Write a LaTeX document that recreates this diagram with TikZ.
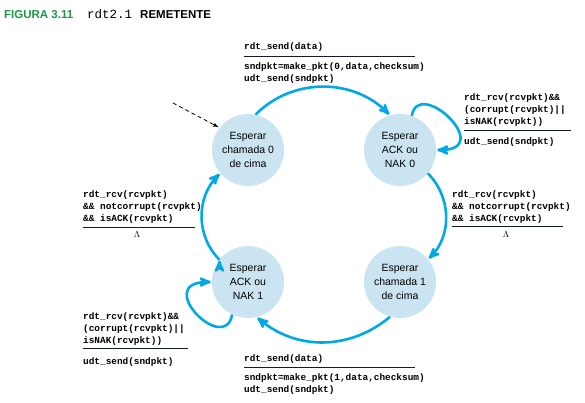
\documentclass[tikz,border=0pt]{standalone}
\usepackage{fontspec}
\setmainfont{Liberation Sans}
\setmonofont{Liberation Mono}
\usetikzlibrary{arrows}

\definecolor{fsmblue}{RGB}{0,169,230}
\definecolor{statefill}{RGB}{202,228,242}
\definecolor{figgreen}{RGB}{30,150,72}
\definecolor{barcol}{RGB}{20,24,48}

\begin{document}
\begin{tikzpicture}[x=1pt,y=1pt,>=stealth',shorten >=1pt,
          state/.style={circle,fill=statefill,minimum size=72pt,inner sep=0pt,align=center,
                        font=\fontsize{10.5}{14}\selectfont},
          trans/.style={->,draw=fsmblue,line width=2.6pt},
          code/.style={anchor=base west,inner sep=0pt,align=left,
                       font=\ttfamily\bfseries\fontsize{9.4}{12}\selectfont},
          lam/.style={inner sep=0pt,font=\fontsize{9}{10}\selectfont},
          bar/.style={draw=barcol,line width=0.9pt}]

        \useasboundingbox (0,0) rectangle (585,-403);

        % title
        \node[anchor=base west,inner sep=0pt,text=figgreen,font=\bfseries\fontsize{11.5}{14}\selectfont] (fig) at (4,-19) {FIGURA 3.11};
        \node[anchor=base west,inner sep=0pt,font=\ttfamily\fontsize{12.5}{14}\selectfont] (name) at (87,-19) {rdt2.1};
        \node[anchor=base west,inner sep=0pt,font=\bfseries\fontsize{11.5}{14}\selectfont] (role) at (140,-19) {REMETENTE};

        % states
        \node[state] (s0) at (248,-150) {Esperar\\chamada 0\\de cima};
        \node[state] (a0) at (400,-150) {Esperar\\ACK ou\\NAK 0};
        \node[state] (a1) at (248,-282) {Esperar\\ACK ou\\NAK 1};
        \node[state] (s1) at (400,-282) {Esperar\\chamada 1\\de cima};

        % initial state
        \coordinate (init) at (173,-103);
        \draw[->,>=latex,line width=0.8pt,dash pattern=on 4pt off 3pt] (init) -- (s0.142);

        % transitions
        \path[trans]
        (s0.78) edge[out=45,in=135] (a0.106)
        (a0.-40) edge[out=-45,in=45] (s1.39)
        (s1.-106) edge[out=-140,in=-40] (a1.-76)
        (a1.142) edge[out=135,in=-135] (s0.-140);
        \draw[trans] (a0.71) .. controls +(80:40) and +(0:60) .. (a0.east);
        \draw[trans] (a1.-116) .. controls +(-100:42) and +(180:60) .. (a1.west);

        % events and actions (multi-line texts sit on their last baseline)
        \node[code] (s0in) at (244,-50) {rdt\_send(data)};
        \draw[bar] (244,-56) -- (416,-56);
        \node[code] (s0out) at (244,-82) {sndpkt=make\_pkt(0,data,checksum)\\udt\_send(sndpkt)};

        \node[code] (a0in) at (464,-125) {rdt\_rcv(rcvpkt)\&\&\\(corrupt(rcvpkt)||\\isNAK(rcvpkt))};
        \draw[bar] (464,-130) -- (572,-130);
        \node[code] (a0out) at (464,-145) {udt\_send(sndpkt)};

        \node[code] (a0okin) at (452,-221) {rdt\_rcv(rcvpkt)\\\&\& notcorrupt(rcvpkt)\\\&\& isACK(rcvpkt)};
        \draw[bar] (452,-226) -- (564,-226);
        \node[lam] (a0okout) at (506,-234) {$\Lambda$};

        \node[code] (a1okin) at (83,-221) {rdt\_rcv(rcvpkt)\\\&\& notcorrupt(rcvpkt)\\\&\& isACK(rcvpkt)};
        \draw[bar] (83,-227) -- (196,-227);
        \node[lam] (a1okout) at (137,-234) {$\Lambda$};

        \node[code] (a1in) at (83,-343) {rdt\_rcv(rcvpkt)\&\&\\(corrupt(rcvpkt)||\\isNAK(rcvpkt))};
        \draw[bar] (83,-348) -- (189,-348);
        \node[code] (a1out) at (83,-364) {udt\_send(sndpkt)};

        \node[code] (s1in) at (244,-361) {rdt\_send(data)};
        \draw[bar] (244,-367) -- (416,-367);
        \node[code] (s1out) at (244,-392) {sndpkt=make\_pkt(1,data,checksum)\\udt\_send(sndpkt)};
      \end{tikzpicture}
\end{document}
